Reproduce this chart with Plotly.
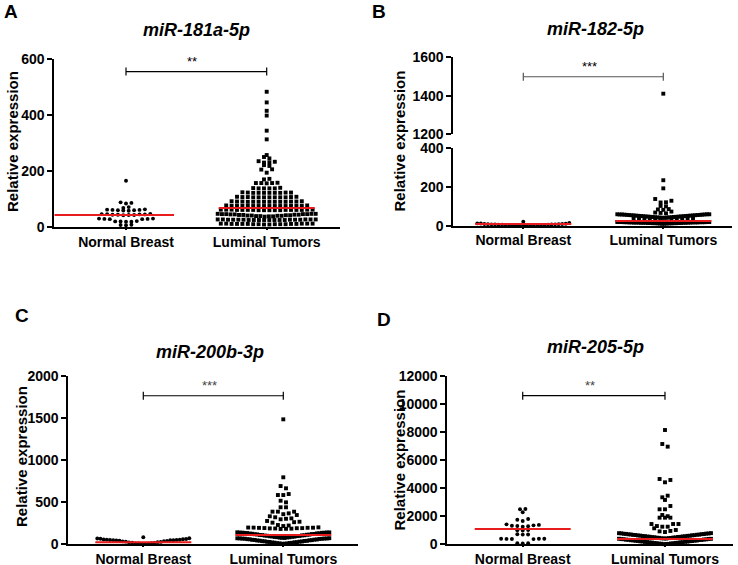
import plotly.graph_objects as go

W, H = 738, 565

groups = ["Normal Breast", "Luminal Tumors"]

# ---------------- data ----------------
A_normal = [165, 88, 86, 84, 71, 68, 63, 62, 61, 61, 60, 60, 59, 58, 47, 46, 46, 45, 45, 44, 44, 43,
            43, 42, 30, 30, 29, 29, 28, 28, 21, 20, 20, 19, 19, 8, 7, 6]
A_luminal = [11, 11, 10, 12, 10, 11, 12, 10, 12, 9, 11, 12, 10, 11, 10, 11, 12, 9,
             26, 26, 25, 27, 25, 26, 27, 25, 27, 25, 26, 27, 25, 26, 25, 26, 25, 26, 27, 25,
             37, 38, 38, 39, 39, 40, 40, 41, 41, 42, 42, 43, 43, 44, 44, 45, 45, 46, 46, 47, 47, 47, 46, 46,
             60, 60, 61, 61, 61, 62, 62, 62, 61, 60, 61, 62, 60, 61, 61, 60, 62, 61,
             75, 75, 76, 76, 76, 75, 75, 76, 77, 75, 76, 76, 75, 76, 75, 77,
             90, 90, 91, 91, 90, 90, 92, 90, 91, 90, 90, 92, 90, 91,
             106, 106, 107, 107, 106, 106, 108, 106, 107, 106, 106, 108,
             122, 122, 123, 123, 122, 122, 124, 122, 123, 122,
             138, 138, 139, 138, 140, 138,
             156, 157, 157, 158, 157,
             170, 172, 194, 205, 206, 221, 218, 231, 233, 235, 230, 245, 250, 257,
             313, 344, 398, 415, 445, 483]
A_center_line = [43, 68]

B_normal = [21, 14, 12, 11, 10, 9, 9, 8, 8, 7, 7, 6, 6, 5, 5, 5, 4, 4, 4, 3, 3, 3, 2, 2, 2, 1, 1, 1]
B_luminal = [1411, 235, 193, 138, 129, 121, 120, 102, 100, 86, 84, 82, 73, 68, 66, 64,
             41, 41, 42, 42, 43, 43, 44, 44, 45, 45, 46, 46, 47, 47, 48, 48, 49, 49, 50, 50,
             51, 51, 52, 52, 53, 53, 54, 54, 55, 55, 56, 56, 57, 57, 58, 58, 59, 59, 59, 58,
             22, 24, 26, 28, 30, 32, 33, 34, 35, 36, 37, 38,
             10, 10, 11, 11, 12, 12, 12, 13, 13, 13, 14, 14, 14, 15, 15, 15, 15, 16, 16, 16,
             16, 17, 17, 17, 17, 18, 18, 18, 18, 19, 19, 19, 19, 19, 18, 17, 16, 15, 14, 13]
B_center_line = [9, 24]

C_normal = [80, 68, 66, 63, 60, 57, 54, 52, 50, 48, 47, 46, 45, 44, 42, 40, 37, 34, 31, 28, 25,
            22, 19, 16, 13, 10, 8, 6, 4, 2, 1]
C_luminal = [1484, 794, 690, 663, 595, 583, 583, 515, 496, 437, 437, 385, 385, 385, 365, 355,
             345, 330, 318, 305, 300, 294, 274, 265, 260, 254, 226, 220, 214,
             198, 196, 195, 194, 193, 192, 190, 189, 188, 186, 185, 183, 181, 179,
             72, 74, 76, 78, 80, 82, 84, 86, 88, 90, 92, 94, 96, 98, 100, 102, 104, 106, 108, 110,
             112, 114, 116, 118, 120, 122, 124, 126, 128, 130, 132, 134, 136, 138, 139, 137, 135, 133,
             2, 4, 6, 8, 10, 12, 14, 16, 18, 20, 22, 24, 26, 28, 30, 32, 34, 36, 38, 40,
             42, 44, 46, 48, 50, 52, 54, 56, 58, 60, 62, 64, 66, 68, 69, 67, 65, 63]
C_center_line = [20, 107]

D_normal = [70, 60, 80, 370, 380, 385, 390, 395, 398, 690, 700, 720, 980, 1000, 1020,
            1250, 1280, 1300, 1320, 1350, 1380, 1420, 1658, 1750, 1800, 2277, 2490, 2512]
D_luminal = [8135, 7139, 6950, 4648, 4577, 4413, 3460, 3345, 3155, 2726, 2491, 2491, 2086, 2000,
             1895, 1895, 1895, 1445, 1445, 1445, 1300, 1253, 1253, 1139, 1018, 950, 920, 875,
             410, 420, 430, 440, 450, 460, 470, 480, 490, 500, 510, 520, 530, 540, 550, 560, 570,
             580, 590, 600, 610, 620, 630, 640, 650, 660, 670, 680, 690, 700, 710, 720, 730, 740,
             750, 760, 770, 780, 790, 795,
             10, 20, 30, 40, 50, 60, 70, 80, 90, 100, 110, 120, 130, 140, 150, 160, 170, 180, 190,
             200, 210, 220, 230, 240, 250, 260, 270, 280, 290, 300, 310, 320, 330, 340, 350, 360,
             370, 380, 390, 395]
D_center_line = [1088, 380]

titles = ["miR-181a-5p", "miR-182-5p", "miR-200b-3p", "miR-205-5p"]
letters = ["A", "B", "C", "D"]
stars = ["**", "***", "***", "**"]
bracket_y = [555, 1499, 1765, 10577]

A_ticks = [0, 200, 400, 600]
B_ticks_low = [0, 200, 400]
B_ticks_high = [1200, 1400, 1600]
C_ticks = [0, 500, 1000, 1500, 2000]
D_ticks = [0, 2000, 4000, 6000, 8000, 10000, 12000]


# ---------------- helpers ----------------
def fx(p):
    return p / W


def fy(p):
    return 1 - p / H


def swarm(values, center, bin_units, px_per_unit, spacing=5.4, max_half=47):
    rows = {}
    for v in values:
        rows.setdefault(int(v // bin_units), []).append(v)
    xs, ys = [], []
    for k in sorted(rows):
        vals = sorted(rows[k])
        n = len(vals)
        sp = spacing
        if n > 1 and (n - 1) * sp / 2 > max_half:
            sp = 2 * max_half / (n - 1)
        offs = [(i - (n - 1) / 2) * sp for i in range(n)]
        isort = sorted(range(n), key=lambda i: (round(abs(offs[i]), 6), i))
        order, j, flip = [], 0, (k % 2 == 1)
        while j < n:
            if j + 1 < n and abs(abs(offs[isort[j]]) - abs(offs[isort[j + 1]])) < 1e-9:
                a, b = isort[j], isort[j + 1]
                order += [b, a] if flip else [a, b]
                flip = not flip
                j += 2
            else:
                order.append(isort[j])
                j += 1
        for v, i in zip(vals, order):
            xs.append(center + offs[i] / px_per_unit)
            ys.append(v)
    return xs, ys


FONT = "Liberation Sans, Arial, sans-serif"
RED = "rgb(232,28,28)"
MS = 3.9

fig = go.Figure()
shapes, annotations = [], []

panels = [
    dict(xa="x", ya="y", xd=(54.3, 340), yd=(59, 227), xr=(-0.5096, 1.521), sx=140.7,
         yr=(0, 600), ticks=A_ticks, data=(A_normal, A_luminal), bins=16, lines=A_center_line,
         half=49),
    dict(xa="x2", ya="y2", xd=(453.3, 731.7), yd=(148.3, 225.7), xr=(-0.5, 1.4886), sx=140.0,
         yr=(0, 400), ticks=B_ticks_low, data=(B_normal, B_luminal), bins=20, lines=B_center_line,
         half=46),
    dict(xa="x3", ya="y4", xd=(68.3, 358), yd=(376, 544), xr=(-0.5357, 1.5336), sx=140.0,
         yr=(0, 2000), ticks=C_ticks, data=(C_normal, C_luminal), bins=70, lines=C_center_line,
         half=46),
    dict(xa="x4", ya="y5", xd=(447.3, 733), yd=(375.7, 544.3), xr=(-0.53, 1.478), sx=142.3,
         yr=(0, 12000), ticks=D_ticks, data=(D_normal, D_luminal), bins=400, lines=D_center_line,
         half=46),
]
title_pos = [(196.7, 30), (595, 28.5), (210, 352), (595, 347)]
letter_pos = [(11, 12), (379, 12), (22, 315), (384, 319)]
ytitle_pos = [(12, 142), (398.5, 141), (22, 457), (398.5, 460)]

axis_common = dict(showgrid=False, zeroline=False, showline=True, linecolor="black",
                   linewidth=1.8, ticks="outside", ticklen=5, tickwidth=1.8, tickcolor="black",
                   automargin=False,
                   tickfont=dict(family=FONT, size=14, color="black", weight="bold"))

layout_axes = {}
for pi, p in enumerate(panels):
    xname = "xaxis" + p["xa"][1:]
    yname = "yaxis" + p["ya"][1:]
    layout_axes[xname] = dict(axis_common, domain=[fx(p["xd"][0]), fx(p["xd"][1])],
                              range=list(p["xr"]), anchor=p["ya"], tickmode="array",
                              tickvals=[0, 1], ticktext=groups, fixedrange=True, ticklen=1)
    layout_axes[yname] = dict(axis_common, domain=[fy(p["yd"][1]), fy(p["yd"][0])],
                              range=list(p["yr"]), anchor=p["xa"], tickmode="array",
                              tickvals=p["ticks"], ticktext=[str(t) for t in p["ticks"]],
                              fixedrange=True)
    # category tick marks (5 px, below the axis)
    for gi in range(len(groups)):
        shapes.append(dict(type="line", xref=p["xa"], yref=p["ya"], x0=gi, x1=gi,
                           ysizemode="pixel", yanchor=p["yr"][0], y0=0, y1=-5,
                           line=dict(color="black", width=1.8)))
    for gi, (vals, sym) in enumerate(zip(p["data"], ["circle", "square"])):
        xs, ys = swarm(vals, gi, p["bins"], p["sx"], max_half=p["half"])
        if pi == 1:
            lo = [(x, y) for x, y in zip(xs, ys) if y <= 400]
            hi = [(x, y) for x, y in zip(xs, ys) if y > 400]
            for pts, yax in ((lo, "y2"), (hi, "y3")):
                if pts:
                    fig.add_trace(go.Scatter(x=[a for a, b in pts], y=[b for a, b in pts],
                                             mode="markers", xaxis="x2", yaxis=yax,
                                             marker=dict(symbol=sym, size=MS, color="black",
                                                         line=dict(width=0)),
                                             cliponaxis=False, hoverinfo="skip"))
        else:
            fig.add_trace(go.Scatter(x=xs, y=ys, mode="markers", xaxis=p["xa"], yaxis=p["ya"],
                                     marker=dict(symbol=sym, size=MS, color="black",
                                                 line=dict(width=0)),
                                     cliponaxis=False, hoverinfo="skip"))
    half = 48 / p["sx"]
    for gi, val in enumerate(p["lines"]):
        x0 = gi - half
        if pi == 0 and gi == 0:
            x0 = p["xr"][0]
        shapes.append(dict(type="line", xref=p["xa"], yref=p["ya"], x0=x0, x1=gi + half,
                           y0=val, y1=val, line=dict(color=RED, width=2), layer="above"))
    bya = "y3" if pi == 1 else p["ya"]
    by = bracket_y[pi]
    bcol = "#555555" if pi == 1 else "black"
    shapes.append(dict(type="line", xref=p["xa"], yref=bya, x0=0, x1=1, y0=by, y1=by,
                       line=dict(color=bcol, width=1.2)))
    for xe in (0, 1):
        shapes.append(dict(type="line", xref=p["xa"], yref=bya, x0=xe, x1=xe,
                           ysizemode="pixel", yanchor=by, y0=-4, y1=4,
                           line=dict(color=bcol, width=1.2)))
    annotations.append(dict(xref=p["xa"], yref=bya, x=0.47, y=by, yshift=10, text=stars[pi],
                            showarrow=False,
                            font=dict(family=FONT, size=13,
                                      color="black" if pi < 2 else "#444444")))
    tx, ty = title_pos[pi]
    annotations.append(dict(xref="paper", yref="paper", x=fx(tx), y=fy(ty),
                            text="<b><i>" + titles[pi] + "</i></b>", showarrow=False,
                            xanchor="center", yanchor="middle",
                            font=dict(family=FONT, size=18, color="black")))
    lx, ly = letter_pos[pi]
    annotations.append(dict(xref="paper", yref="paper", x=fx(lx), y=fy(ly),
                            text="<b>" + letters[pi] + "</b>", showarrow=False,
                            xanchor="center", yanchor="middle",
                            font=dict(family=FONT, size=19, color="black")))
    yx, yy = ytitle_pos[pi]
    annotations.append(dict(xref="paper", yref="paper", x=fx(yx), y=fy(yy),
                            text="<b>Relative expression</b>", showarrow=False, textangle=-90,
                            xanchor="center", yanchor="middle",
                            font=dict(family=FONT, size=15, color="black")))

layout_axes["yaxis3"] = dict(axis_common, domain=[fy(134.3), fy(57.3)], range=[1200, 1600],
                             anchor="x2", tickmode="array", tickvals=B_ticks_high,
                             ticktext=[str(t) for t in B_ticks_high], fixedrange=True)

fig.update_layout(width=W, height=H, margin=dict(l=0, r=0, t=0, b=0, autoexpand=False),
                  paper_bgcolor="white", plot_bgcolor="white", showlegend=False,
                  shapes=shapes, annotations=annotations, **layout_axes)

fig.write_html("out.html", config={"displayModeBar": False, "responsive": False},
               post_script="document.body.style.margin='0';document.body.style.padding='0';")
